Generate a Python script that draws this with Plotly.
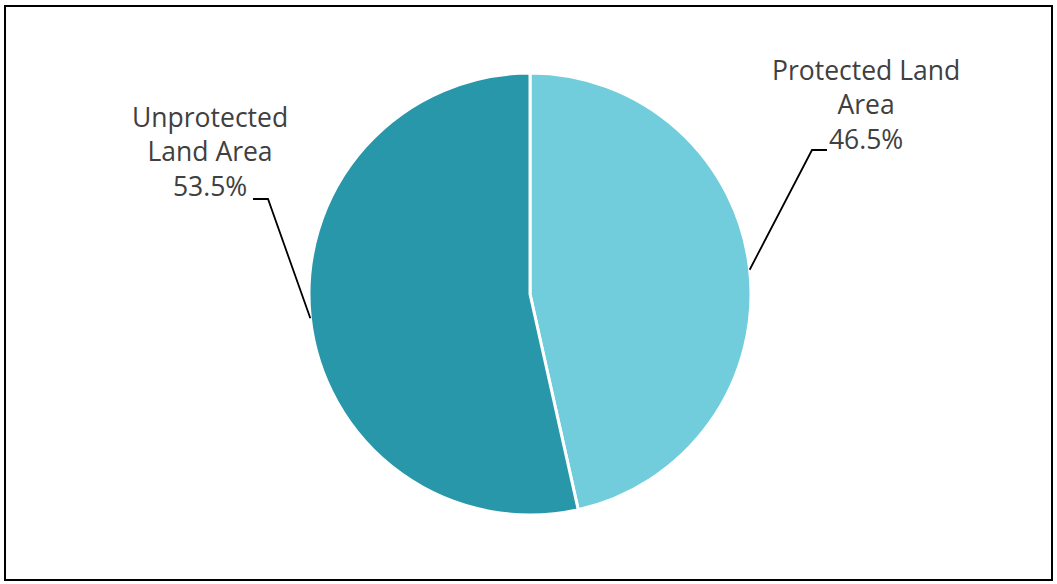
import math
import plotly.graph_objects as go

labels = ["Protected Land Area", "Unprotected Land Area"]
label_lines = ["Protected Land<br>Area", "Unprotected<br>Land Area"]
values = [46.5, 53.5]
colors = ["#71CDDC", "#2797A9"]

W, H = 1057, 584
cx, cy, R = 530, 294, 221  # pixel geometry of the pie

# label text block centres and leader elbow points (pixels)
text_pos = [(866, 104), (210, 152)]
elbows = [((812, 150), (827, 150)), ((268, 199), (253, 199))]

def px(x):
    return x / W

def py(y):
    return 1 - y / H

fig = go.Figure(go.Pie(
    labels=labels,
    values=values,
    sort=False,
    direction="clockwise",
    rotation=0,
    marker=dict(colors=colors, line=dict(color="white", width=3)),
    textinfo="none",
    hoverinfo="label+percent",
    domain=dict(x=[px(cx - R), px(cx + R)], y=[py(cy + R), py(cy - R)]),
    showlegend=False,
))

total = sum(values)
shapes = [dict(type="rect", xref="paper", yref="paper",
               x0=px(5), x1=px(1052), y0=py(580), y1=py(6),
               line=dict(color="black", width=2))]
annotations = []
start = 90.0
for i, v in enumerate(values):
    frac = v / total
    mid = start - frac * 360 / 2
    start -= frac * 360
    ex = cx + R * math.cos(math.radians(mid))
    ey = cy - R * math.sin(math.radians(mid))
    (e1x, e1y), (e2x, e2y) = elbows[i]
    shapes.append(dict(type="path", xref="paper", yref="paper",
                       path=f"M {px(ex)},{py(ey)} L {px(e1x)},{py(e1y)} L {px(e2x)},{py(e2y)}",
                       line=dict(color="black", width=1.8)))
    tx, ty = text_pos[i]
    annotations.append(dict(
        x=px(tx), y=py(ty), xref="paper", yref="paper",
        text=f"{label_lines[i]}<br>{v:.1f}%",
        showarrow=False, xanchor="center", yanchor="middle",
        font=dict(family="Open Sans", size=26.5, color="#404040"),
    ))

fig.update_layout(
    width=W, height=H,
    margin=dict(l=0, r=0, t=0, b=0),
    paper_bgcolor="white", plot_bgcolor="white",
    shapes=shapes, annotations=annotations,
)

fig.write_html(
    "out.html",
    config={"displayModeBar": False},
    post_script="document.body.style.margin='0';document.body.style.overflow='hidden';",
)
